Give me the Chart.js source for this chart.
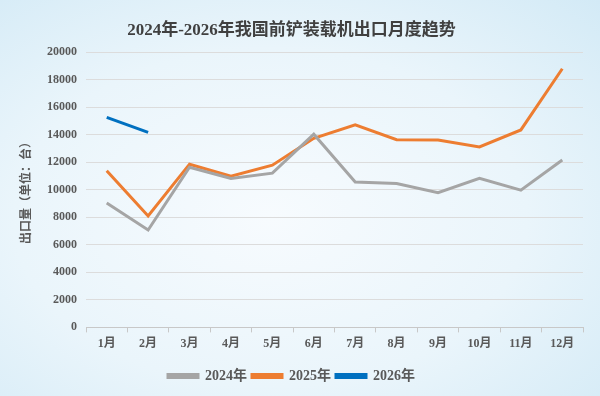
<!DOCTYPE html>
<html>
<head>
<meta charset="utf-8">
<script src="https://cdn.jsdelivr.net/npm/chart.js@4"></script>
<style>
  html, body { margin: 0; padding: 0; }
  body {
    width: 600px; height: 396px; overflow: hidden;
    background: radial-gradient(ellipse at 45% 55%, #f7fbfe 0%, #eaf5fb 55%, #d3eaf6 100%);
  }
  #wrap { width: 600px; height: 396px; }
</style>
</head>
<body>
<div id="wrap"><canvas id="exportChart"></canvas></div>
<script>
const months = ['1月', '2月', '3月', '4月', '5月', '6月', '7月', '8月', '9月', '10月', '11月', '12月'];

const exports2024 = [9050, 7080, 11650, 10830, 11220, 14050, 10580, 10460, 9800, 10850, 9980, 12170];
const exports2025 = [11390, 8100, 11870, 11000, 11800, 13750, 14740, 13650, 13630, 13120, 14360, 18810];
const exports2026 = [15280, 14180];

const fontFamily = '"Liberation Serif", "DejaVu Serif", "Noto Sans CJK SC", serif';
const textColor = '#595959';

const ctx = document.getElementById('exportChart').getContext('2d');
const exportChart = new Chart(ctx, {
    type: 'line',
    data: {
        labels: months,
        datasets: [
            {
                label: '2024年',
                data: exports2024,
                borderColor: '#a5a5a5',
                backgroundColor: '#a5a5a5',
                borderWidth: 3,
                pointRadius: 0,
                tension: 0
            },
            {
                label: '2025年',
                data: exports2025,
                borderColor: '#ed7d31',
                backgroundColor: '#ed7d31',
                borderWidth: 3,
                pointRadius: 0,
                tension: 0
            },
            {
                label: '2026年',
                data: exports2026,
                borderColor: '#0070c0',
                backgroundColor: '#0070c0',
                borderWidth: 3,
                pointRadius: 0,
                tension: 0
            }
        ]
    },
    options: {
        responsive: true,
        maintainAspectRatio: false,
        animation: false,
        layout: { padding: { left: 0, right: 17, top: 0, bottom: 3 } },
        plugins: {
            title: {
                display: true,
                text: '2024年-2026年我国前铲装载机出口月度趋势',
                color: '#404040',
                font: { family: fontFamily, size: 17, weight: 'bold' },
                padding: { top: 20, bottom: 12 }
            },
            legend: {
                position: 'bottom',
                title: {
                    display: true,
                    text: '',
                    font: { size: 1 },
                    padding: 4
                },
                labels: {
                    boxWidth: 30,
                    boxHeight: 3,
                    color: textColor,
                    font: { family: fontFamily, size: 14, weight: 'bold' },
                    padding: 5
                }
            },
            tooltip: { enabled: false }
        },
        scales: {
            x: {
                offset: true,
                grid: {
                    offset: true,
                    drawOnChartArea: false,
                    tickLength: 5,
                    color: '#c8c8c8'
                },
                border: { color: '#c8c8c8' },
                ticks: {
                    color: textColor,
                    font: { family: fontFamily, size: 12, weight: 'bold' },
                    padding: 4,
                    maxRotation: 0
                }
            },
            y: {
                min: 0,
                max: 20000,
                ticks: {
                    stepSize: 2000,
                    color: textColor,
                    font: { family: fontFamily, size: 12, weight: 'bold' },
                    padding: 9,
                    callback: function(value) {
                        return String(value);
                    }
                },
                grid: { color: '#dcdcdc', drawTicks: false },
                border: { display: false },
                title: {
                    display: true,
                    text: '出口量（单位：台）',
                    color: textColor,
                    font: { family: fontFamily, size: 12, weight: 'bold' },
                    padding: { top: 20, bottom: 0 }
                },
                afterFit: function(scale) {
                    scale.width = 86;
                }
            }
        }
    }
});
</script>
</body>
</html>
